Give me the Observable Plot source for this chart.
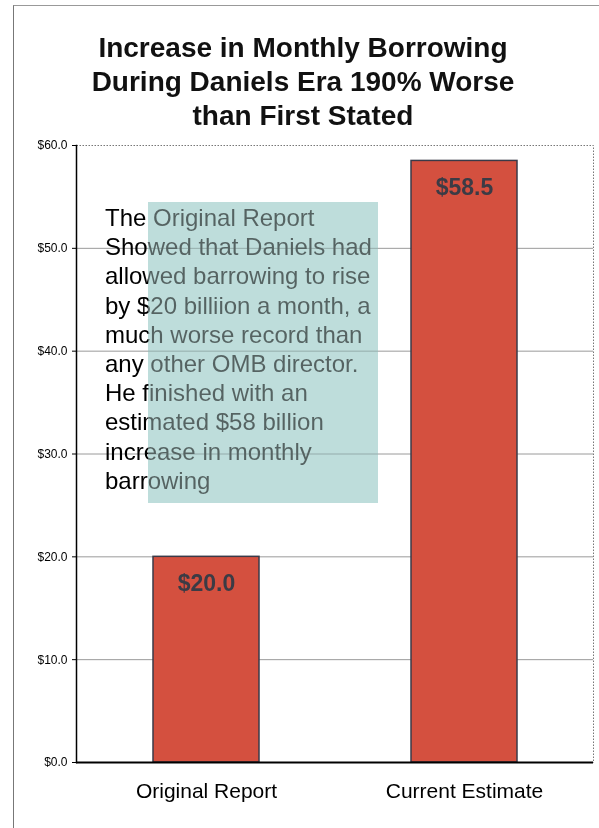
<!DOCTYPE html>
<html>
<head>
<meta charset="utf-8">
<script src="https://cdn.jsdelivr.net/npm/d3@7"></script>
<script src="https://cdn.jsdelivr.net/npm/@observablehq/plot@0.6"></script>
<style>
  html, body { margin: 0; padding: 0; background: #fff; }
  #page {
    position: relative; width: 599px; height: 828px; overflow: hidden; isolation: isolate;
    font-family: Arial, "Liberation Sans", sans-serif; background: #fff;
  }
  #border {
    position: absolute; left: 13px; top: 5px; right: -2px; bottom: -2px;
    border-left: 1px solid #777; border-top: 1px solid #999;
  }
  #chart { position: absolute; left: 0; top: 0; }
  #title {
    position: absolute; left: 13px; width: 580px; top: 31px;
    text-align: center; font-weight: bold; font-size: 28px; line-height: 34px; color: #111;
  }
  #note {
    position: absolute; left: 105px; top: 203px;
    font-size: 24px; line-height: 29.2px; color: #000; white-space: nowrap;
  }
  /* callout box: lightens the text under it, then tints it teal */
  .box { position: absolute; left: 148px; top: 202px; width: 230px; height: 301px; }
  #boxScreen { background: rgb(114, 114, 114); mix-blend-mode: screen; }
  #boxTint { background: rgb(190, 221, 219); mix-blend-mode: multiply; }
</style>
</head>
<body>
<div id="page">
  <div id="border"></div>
  <div id="chart"></div>
  <div id="title"></div>
  <div id="note"></div>
  <div id="boxScreen" class="box"></div>
  <div id="boxTint" class="box"></div>
</div>
<script>
// Monthly borrowing increase, in billions of dollars
const categories = ["Original Report", "Current Estimate"];
const values = [20.0, 58.5];
const yTicks = [0, 10, 20, 30, 40, 50, 60];
const gridTicks = [10, 20, 30, 40, 50];

const titleLines = [
  "Increase in Monthly Borrowing",
  "During Daniels Era 190% Worse",
  "than First Stated"
];
const noteLines = [
  "The Original Report",
  "Showed that Daniels had",
  "allowed barrowing to rise",
  "by $20 billiion a month, a",
  "much worse record than",
  "any other OMB director.",
  "He finished with an",
  "estimated $58 billion",
  "increase in monthly",
  "barrowing"
];

const data = categories.map((c, i) => ({category: c, value: values[i]}));
const money = d => "$" + d.toFixed(1);

const chart = Plot.plot({
  width: 599,
  height: 828,
  marginLeft: 76,
  marginRight: 6,
  marginTop: 145,
  marginBottom: 66,
  style: {fontFamily: "Arial, 'Liberation Sans', sans-serif", background: "transparent", color: "#000"},
  x: {domain: categories, paddingInner: 0.59, paddingOuter: 0.295, label: null},
  y: {domain: [0, 60], label: null},
  marks: [
    Plot.frame({stroke: "#777", strokeDasharray: "1.5,1.5"}),
    Plot.gridY(gridTicks, {stroke: "#9a9a9a", strokeOpacity: 1}),
    Plot.barY(data, {x: "category", y: "value", fill: "#d4503f", stroke: "#3a3a48", strokeWidth: 1.5}),
    Plot.text(data, {
      x: "category", y: "value", text: d => money(d.value),
      dy: 27, fontSize: 23, fontWeight: "bold", fill: "#3b3b45"
    }),
    Plot.frame({anchor: "left", stroke: "#000", strokeWidth: 1.5}),
    Plot.ruleY([0], {stroke: "#000", strokeWidth: 2}),
    Plot.axisY({ticks: yTicks, tickFormat: money, tickSize: 4, tickPadding: 5, fontSize: 12, label: null}),
    Plot.axisX({tickSize: 0, tickPadding: 21, fontSize: 21, label: null})
  ]
});
document.getElementById("chart").appendChild(chart);

document.getElementById("title").innerHTML = titleLines.join("<br>");
noteLines.forEach(line => {
  const div = document.createElement("div");
  div.textContent = line;
  document.getElementById("note").appendChild(div);
});
</script>
</body>
</html>
